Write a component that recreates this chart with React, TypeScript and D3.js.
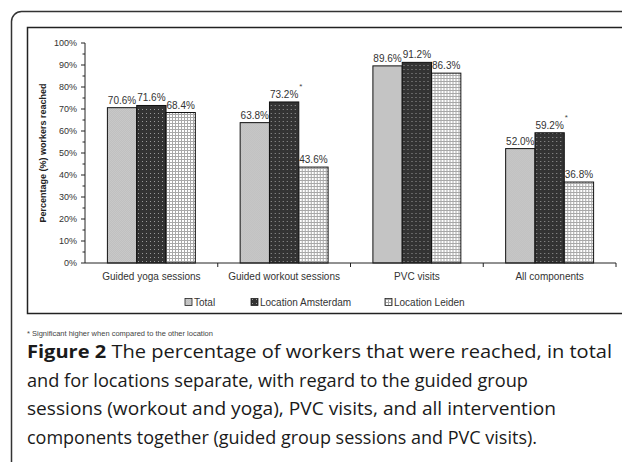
import React from "react";
import * as d3 from "d3";

const categories = [
  "Guided yoga sessions",
  "Guided workout sessions",
  "PVC visits",
  "All components",
];
const seriesNames = ["Total", "Location Amsterdam", "Location Leiden"];
const totalValues = [70.6, 63.8, 89.6, 52.0];
const amsterdamValues = [71.6, 73.2, 91.2, 59.2];
const leidenValues = [68.4, 43.6, 86.3, 36.8];
const amsterdamSignificant = [false, true, false, true];
const yTicks = [0, 10, 20, 30, 40, 50, 60, 70, 80, 90, 100];

const captionLines = [
  { bold: "Figure 2", rest: " The percentage of workers that were reached, in total", end: 612 },
  { bold: "", rest: "and for locations separate, with regard to the guided group", end: 528 },
  { bold: "", rest: "sessions (workout and yoga), PVC visits, and all intervention", end: 556 },
  { bold: "", rest: "components together (guided group sessions and PVC visits).", end: 537 },
];

const W = 622;
const H = 462;
const left = 85;
const right = 616;
const top = 43;
const bottom = 263;
const font = "Arial, 'Liberation Sans', sans-serif";
const patternIds = ["patTotal", "patAms", "patLei"];

export default function App() {
  const x = d3.scaleBand<string>().domain(categories).range([left, right]);
  const bw = x.bandwidth();
  const x1 = d3
    .scaleBand<string>()
    .domain(seriesNames)
    .range([22.4, bw - 22.4]);
  const y = d3.scaleLinear().domain([0, 100]).range([bottom, top]);
  const minorTicks = d3.range(5, 100, 10);

  const valuesBySeries = [totalValues, amsterdamValues, leidenValues];

  return (
    <svg
      width={W}
      height={H}
      style={{ position: "absolute", left: 0, top: 0, background: "#fff" }}
    >
      <defs>
        <pattern id="patTotal" width="2" height="2" patternUnits="userSpaceOnUse">
          <rect width="2" height="2" fill="#c8c8c8" />
          <rect width="1" height="1" fill="#c0c0c0" />
          <rect x="1" y="1" width="1" height="1" fill="#c0c0c0" />
        </pattern>
        <pattern id="patAms" width="4" height="4" patternUnits="userSpaceOnUse">
          <rect width="4" height="4" fill="#333" />
          <rect x="1" y="1" width="1" height="1" fill="#9a9a9a" />
        </pattern>
        <pattern id="patLei" width="3" height="3" patternUnits="userSpaceOnUse">
          <rect width="3" height="3" fill="#fff" />
          <rect width="3" height="1" fill="#a8a8a8" />
          <rect width="1" height="3" fill="#a8a8a8" />
        </pattern>
      </defs>

      {/* outer frame and chart box */}
      <rect x={11.5} y={11.5} width={640} height={460} rx={10} fill="none" stroke="#333" strokeWidth={1.5} />
      <rect x={27.5} y={27.5} width={620} height={286} fill="none" stroke="#222" strokeWidth={1.5} />

      {/* y axis */}
      <line x1={left} x2={left} y1={top} y2={bottom} stroke="#222" />
      {yTicks.map((t) => (
        <g key={t}>
          <line x1={left - 4} x2={left} y1={y(t)} y2={y(t)} stroke="#222" />
          <text
            x={left - 8}
            y={y(t) + 3.2}
            textAnchor="end"
            fontFamily={font}
            fontSize={9}
            fill="#333"
          >
            {t}%
          </text>
        </g>
      ))}
      {minorTicks.map((t) => (
        <line key={t} x1={left - 2.5} x2={left} y1={y(t)} y2={y(t)} stroke="#222" />
      ))}
      <text
        transform={`translate(46,${(top + bottom) / 2}) rotate(-90)`}
        textAnchor="middle"
        fontFamily={font}
        fontSize={9}
        fontWeight="bold"
        fill="#222"
      >
        Percentage (%) workers reached
      </text>

      {/* bars */}
      {categories.map((c, ci) => (
        <g key={c} transform={`translate(${x(c)},0)`}>
          {seriesNames.map((s, si) => {
            const v = valuesBySeries[si][ci];
            const bx = x1(s)!;
            const by = y(v);
            return (
              <g key={s}>
                <rect
                  x={bx}
                  y={by}
                  width={x1.bandwidth()}
                  height={bottom - by}
                  fill={`url(#${patternIds[si]})`}
                  stroke="#111"
                  strokeWidth={1}
                />
                <text
                  x={bx + x1.bandwidth() / 2}
                  y={by - 4}
                  textAnchor="middle"
                  fontFamily={font}
                  fontSize={10}
                  fill="#333"
                >
                  {v.toFixed(1)}%
                </text>
                {si === 1 && amsterdamSignificant[ci] && (
                  <text
                    x={bx + x1.bandwidth() + 2}
                    y={by - 13}
                    textAnchor="middle"
                    fontFamily={font}
                    fontSize={8}
                    fill="#444"
                  >
                    *
                  </text>
                )}
              </g>
            );
          })}
        </g>
      ))}

      {/* x axis */}
      <line x1={left} x2={right} y1={bottom} y2={bottom} stroke="#222" />
      {categories.map((c) => (
        <g key={c}>
          <line x1={x(c)! + bw} x2={x(c)! + bw} y1={bottom} y2={bottom + 4} stroke="#222" />
          <text
            x={x(c)! + bw / 2}
            y={bottom + 17}
            textAnchor="middle"
            fontFamily={font}
            fontSize={10}
            fill="#333"
          >
            {c}
          </text>
        </g>
      ))}

      {/* legend */}
      {seriesNames.map((s, si) => {
        const lx = [185, 251, 385][si];
        return (
          <g key={s} transform={`translate(${lx},302)`}>
            <rect x={0} y={-3.5} width={7} height={7} fill={`url(#${patternIds[si]})`} stroke="#222" strokeWidth={0.8} />
            <text x={9} y={3.5} fontFamily={font} fontSize={10} fill="#333">
              {s}
            </text>
          </g>
        );
      })}

      {/* footnote */}
      <text x={27} y={336} fontFamily={font} fontSize={7.5} fill="#444">
        * Significant higher when compared to the other location
      </text>

      {/* caption */}
      {captionLines.map((l, i) => (
        <text
          key={i}
          x={27}
          y={358 + i * 28.7}
          fontFamily="'Open Sans', 'Noto Sans', sans-serif"
          fontSize={17.5}
          fill="#1a1a1a"
          textLength={l.end - 27}
          lengthAdjust="spacingAndGlyphs"
        >
          {l.bold && <tspan fontWeight="bold">{l.bold}</tspan>}
          {l.rest}
        </text>
      ))}
    </svg>
  );
}
